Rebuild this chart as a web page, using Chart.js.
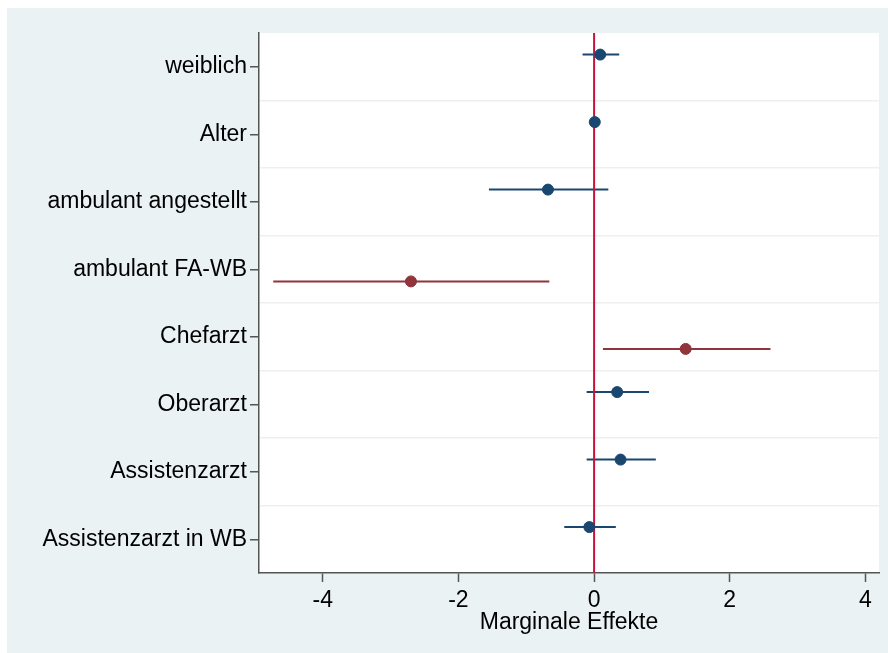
<!DOCTYPE html>
<html>
<head>
<meta charset="utf-8">
<script src="https://cdn.jsdelivr.net/npm/chart.js@4"></script>
<style>
html,body{margin:0;padding:0;background:#fff}
#wrap{position:absolute;left:7px;top:8px;width:881px;height:645px;background:#eaf2f3}
#chartCanvas{display:block}
</style>
</head>
<body>
<div id="wrap"><canvas id="chartCanvas" width="881" height="645"></canvas></div>
<script>
// Koeffizienten (marginale Effekte) mit Konfidenzintervallen
let categories=["weiblich","Alter","ambulant angestellt","ambulant FA-WB","Chefarzt","Oberarzt","Assistenzarzt","Assistenzarzt in WB"]
let estimates=[0.09,0.01,-0.68,-2.70,1.35,0.34,0.39,-0.07]
let lower=[-0.17,-0.02,-1.55,-4.73,0.13,-0.11,-0.11,-0.44]
let upper=[0.37,0.04,0.21,-0.66,2.60,0.81,0.91,0.32]
let model=[1,1,1,2,2,1,1,1]
let xTicks=[-4,-2,0,2,4]

let modelColor={1:"#1a476f",2:"#90353b"}
let modelOffset={1:-0.18,2:0.18}
let fontFam="'Liberation Sans', Arial, sans-serif"

let datasets=[]

categories.forEach((c,i)=>{
    let y=i+modelOffset[model[i]]
    datasets.push({
        type:"line",
        data:[{x:lower[i],y:y},{x:upper[i],y:y}],
        borderColor:modelColor[model[i]],
        borderWidth:2,
        pointRadius:0,
        order:3
    })
})

datasets.push({
    type:"line",
    data:[{x:0,y:-0.5},{x:0,y:categories.length-0.5}],
    borderColor:"#c8133c",
    borderWidth:2,
    pointRadius:0,
    order:2
})

;[1,2].forEach(m=>{
    let pts=[]
    categories.forEach((c,i)=>{
        if(model[i]===m) pts.push({x:estimates[i],y:i+modelOffset[m]})
    })
    datasets.push({
        type:"scatter",
        data:pts,
        backgroundColor:modelColor[m],
        borderColor:modelColor[m],
        pointRadius:5.5,
        order:1
    })
})

let plotBg={
    id:"plotBg",
    beforeDraw(chart){
        let {ctx,chartArea:a}=chart
        ctx.save()
        ctx.fillStyle="#ffffff"
        ctx.fillRect(a.left,a.top,a.right-a.left,a.bottom-a.top)
        ctx.restore()
    }
}

let chart=new Chart(document.querySelector("#chartCanvas"),{
    type:"scatter",
    data:{datasets:datasets},
    options:{
        responsive:false,
        animation:false,
        layout:{padding:{top:25,right:9,left:0,bottom:0}},
        plugins:{legend:{display:false},tooltip:{enabled:false}},
        scales:{
            x:{
                type:"linear",
                min:-4.94,
                max:4.2,
                afterBuildTicks:s=>{s.ticks=xTicks.map(v=>({value:v}))},
                afterFit:s=>{s.height=80},
                border:{color:"#555555",width:1.5},
                grid:{drawOnChartArea:false,tickLength:9,tickColor:"#555555",tickWidth:1.5},
                ticks:{color:"#000",padding:5,font:{family:fontFam,size:23}},
                title:{display:true,text:"Marginale Effekte",color:"#000",padding:{top:0,bottom:17},font:{family:fontFam,size:23}}
            },
            y:{
                type:"linear",
                reverse:true,
                min:-0.5,
                max:categories.length-0.5,
                afterBuildTicks:s=>{
                    let t=[]
                    for(let v=0;v<=categories.length-1;v+=0.5) t.push({value:v})
                    s.ticks=t
                },
                afterFit:s=>{s.width=252},
                border:{color:"#555555",width:1.5},
                grid:{
                    color:c=>(c.tick&&c.tick.value%1!==0)?"#efefef":"rgba(0,0,0,0)",
                    lineWidth:1.5,
                    tickLength:9,
                    tickColor:c=>(c.tick&&c.tick.value%1===0)?"#555555":"rgba(0,0,0,0)",
                    tickWidth:1.5
                },
                ticks:{
                    autoSkip:false,
                    color:"#000",
                    padding:3,
                    font:{family:fontFam,size:23},
                    callback:v=>(v%1===0)?categories[v]:""
                }
            }
        }
    },
    plugins:[plotBg]
})
</script>
</body>
</html>
